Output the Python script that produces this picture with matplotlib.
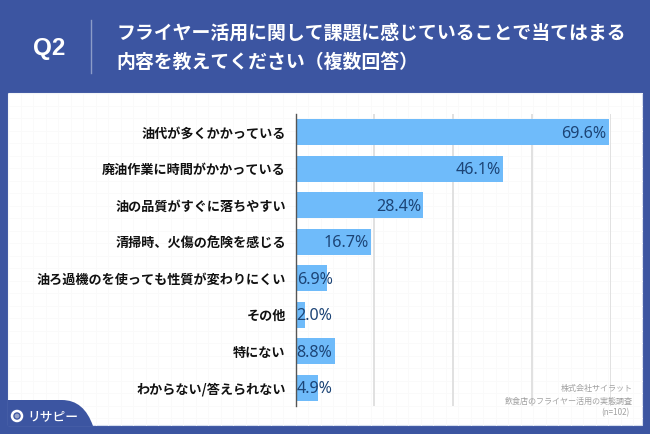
import matplotlib
matplotlib.use('Agg')
import matplotlib.pyplot as plt
import numpy as np
from matplotlib.patches import Rectangle, PathPatch, Circle
from matplotlib.path import Path

plt.rcParams['font.family'] = ['Noto Sans CJK JP', 'DejaVu Sans']

categories = ['油代が多くかかっている', '廃油作業に時間がかかっている', '油の品質がすぐに落ちやすい',
              '清掃時、火傷の危険を感じる', '油ろ過機のを使っても性質が変わりにくい', 'その他',
              '特にない', 'わからない/答えられない']
values = [69.6, 46.1, 28.4, 16.7, 6.9, 2.0, 8.8, 4.9]
title_lines = ['フライヤー活用に関して課題に感じていることで当てはまる', '内容を教えてください（複数回答）']
source_lines = ['株式会社サイラット', '飲食店のフライヤー活用の実態調査', '(n=102)']

W, H = 650, 434
BLUE = '#3C55A1'
fig = plt.figure(figsize=(W/100, H/100), dpi=100, facecolor=BLUE)

bg = fig.add_axes([0, 0, 1, 1])
bg.set_xlim(0, W); bg.set_ylim(H, 0); bg.axis('off')
bg.add_patch(Rectangle((8, 93), 634, 332, fc='white', ec='#D5DDEE', lw=0.8))
for x in np.arange(8, 642, 12.5):
    bg.plot([x, x], [93.5, 424.5], color='#FAFAFA', lw=0.6)
for y in np.arange(93, 425, 12.5):
    bg.plot([8.5, 641.5], [y, y], color='#FAFAFA', lw=0.6)
notch = Path([(8, 400), (62, 400), (84, 400), (93, 426), (8, 426), (8, 400)],
             [Path.MOVETO, Path.LINETO, Path.CURVE3, Path.CURVE3, Path.LINETO, Path.CLOSEPOLY])
bg.add_patch(PathPatch(notch, fc=BLUE, ec='none', zorder=3))
bg.plot([90.5, 90.5], [20, 73], color='#8C9CC8', lw=1)
bg.text(49, 49, 'Q2', color='white', fontsize=17.5, fontweight='bold', ha='center', va='center',
        family=['Liberation Sans', 'DejaVu Sans'])
bg.text(116.5, 33, title_lines[0], color='white', fontsize=13.6, fontweight='bold', ha='left', va='center')
bg.text(116.5, 62, title_lines[1], color='white', fontsize=13.6, fontweight='bold', ha='left', va='center')
# logo
bg.add_patch(Circle((17, 416), 5, fc='none', ec='white', lw=1.8, zorder=4))
bg.add_patch(Circle((17, 416), 2.4, fc='#9AA6C8', ec='none', zorder=4))
bg.text(27, 416.5, 'リサピー', color='white', fontsize=9.2, fontweight='medium', ha='left', va='center', zorder=4)

left, right, top, bottom = 295.5, 610.5, 114, 406
ax = fig.add_axes([left/W, 1-bottom/H, (right-left)/W, (bottom-top)/H])
ax.patch.set_alpha(0)
y = np.arange(len(categories))
ax.barh(y, values, height=26/36.5, color='#6FBBFA', zorder=2)
ax.set_xlim(0, 70)
ax.set_ylim(len(categories)-0.5, -0.5)
ax.set_xticks([17.5, 35, 52.5, 70])
ax.set_xticklabels([])
ax.grid(axis='x', color='#DCDCDC', lw=1.2, zorder=0)
ax.set_axisbelow(True)
ax.tick_params(length=0)
for s in ['top', 'right', 'bottom']:
    ax.spines[s].set_visible(False)
ax.spines['left'].set_color('#555555')
ax.spines['left'].set_linewidth(1)
ax.spines['left'].set_zorder(5)
ax.set_yticks(y)
ax.set_yticklabels(categories, fontsize=9.45, fontweight='bold', color='#111111')
ax.tick_params(axis='y', pad=7)
num_font = ['Noto Sans', 'DejaVu Sans']
label_nudge = 0.04
for yi, v in zip(y, values):
    if v > 10:
        ax.text(v - 0.5, yi + label_nudge, f'{v:.1f}%', ha='right', va='center', color='#1C4476',
                fontsize=11.6, fontweight='medium', zorder=6, family=num_font)
    else:
        ax.text(0.25, yi + label_nudge, f'{v:.1f}%', ha='left', va='center', color='#1C4476',
                fontsize=11.6, fontweight='medium', zorder=6, family=num_font)

over = fig.add_axes([0, 0, 1, 1]); over.set_xlim(0, W); over.set_ylim(H, 0); over.axis('off')
over.text(633, 388, source_lines[0], color='#A0A0A0', fontsize=5.8, ha='right', va='center')
over.text(633, 401, source_lines[1], color='#A0A0A0', fontsize=5.8, ha='right', va='center')
over.text(629, 413, source_lines[2], color='#A0A0A0', fontsize=5.8, ha='right', va='center')

fig.savefig('out.png', dpi=100, facecolor=BLUE)
